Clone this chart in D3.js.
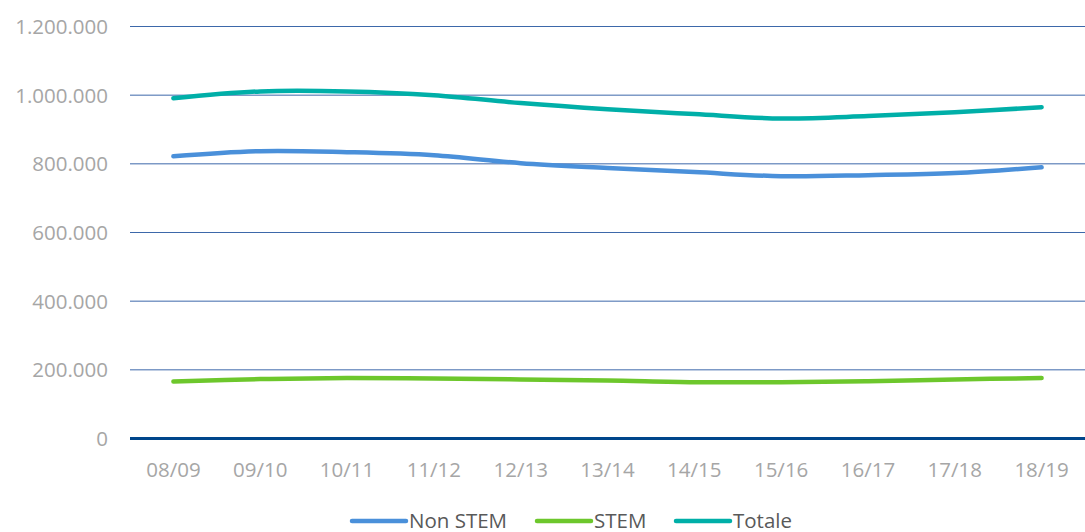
<!DOCTYPE html>
<html>
<head>
<meta charset="utf-8">
<script src="https://cdn.jsdelivr.net/npm/d3@7"></script>
<style>
  body { margin: 0; background: #fff; }
  text { font-family: "Open Sans", "Noto Sans", sans-serif; }
</style>
</head>
<body>
<svg id="chart"></svg>
<script>
const years = ["08/09", "09/10", "10/11", "11/12", "12/13", "13/14",
    "14/15", "15/16", "16/17", "17/18", "18/19"];
const nonStem = [822000, 837000, 834000, 825000, 802000, 788000, 776000, 764000, 767000, 773000, 790000];
const stem = [166000, 173000, 176000, 175000, 172000, 169000, 164000, 164000, 167000, 172000, 176000];
const totale = [991000, 1011000, 1011000, 1000000, 977000, 959000, 945000, 932000, 939000, 950000, 965000];
const yTicks = [0, 200000, 400000, 600000, 800000, 1000000, 1200000];

const seriesNames = ["Non STEM", "STEM", "Totale"];
const seriesValues = [nonStem, stem, totale];
const colors = ["#4A90DA", "#6DC72C", "#00AFA8"];

const width = 1085, height = 532;
const margin = {top: 26, right: 0, bottom: 94, left: 130};

const svg = d3.select("#chart")
    .attr("width", width)
    .attr("height", height);

const x = d3.scaleBand()
    .domain(years)
    .range([margin.left, width - margin.right]);

const y = d3.scaleLinear()
    .domain([0, 1200000])
    .range([height - margin.bottom + 0.5, margin.top + 0.5]);

const fmt = v => d3.format(",")(v).replace(/,/g, ".");

// gridlines
svg.append("g")
    .selectAll("line")
    .data(yTicks.filter(d => d > 0))
    .join("line")
    .attr("x1", margin.left)
    .attr("x2", width - margin.right)
    .attr("y1", d => y(d))
    .attr("y2", d => y(d))
    .attr("stroke", "#3D68AA")
    .attr("stroke-width", 1);

// y labels
svg.append("g")
    .selectAll("text")
    .data(yTicks)
    .join("text")
    .attr("x", 108)
    .attr("y", d => y(d))
    .attr("dy", "0.36em")
    .attr("text-anchor", "end")
    .attr("fill", "#A6A6A6")
    .attr("font-size", 20.5)
    .text(d => fmt(d));

// x labels
svg.append("g")
    .selectAll("text")
    .data(years)
    .join("text")
    .attr("x", d => x(d) + x.bandwidth() / 2)
    .attr("y", 477)
    .attr("text-anchor", "middle")
    .attr("fill", "#A6A6A6")
    .attr("font-size", 20.5)
    .text(d => d);

// lines
const line = d3.line()
    .x((d, i) => x(years[i]) + x.bandwidth() / 2)
    .y(d => y(d))
    .curve(d3.curveCatmullRom.alpha(0.5));

svg.append("g")
    .selectAll("path")
    .data(seriesValues)
    .join("path")
    .attr("d", d => line(d))
    .attr("fill", "none")
    .attr("stroke", (d, i) => colors[i])
    .attr("stroke-width", 4.5)
    .attr("stroke-linecap", "round")
    .attr("stroke-linejoin", "round");

// zero axis
svg.append("line")
    .attr("x1", margin.left)
    .attr("x2", width - margin.right)
    .attr("y1", y(0))
    .attr("y2", y(0))
    .attr("stroke", "#00468B")
    .attr("stroke-width", 3);

// legend
const legendX = [352, 537, 676];
const legend = svg.append("g")
    .selectAll("g")
    .data(seriesNames)
    .join("g")
    .attr("transform", (d, i) => `translate(${legendX[i]},521)`);

legend.append("line")
    .attr("x1", 0)
    .attr("x2", 54)
    .attr("stroke", (d, i) => colors[i])
    .attr("stroke-width", 4.5)
    .attr("stroke-linecap", "round");

legend.append("text")
    .attr("x", 57)
    .attr("dy", "0.36em")
    .attr("fill", "#595959")
    .attr("font-size", 20.5)
    .text(d => d);
</script>
</body>
</html>
